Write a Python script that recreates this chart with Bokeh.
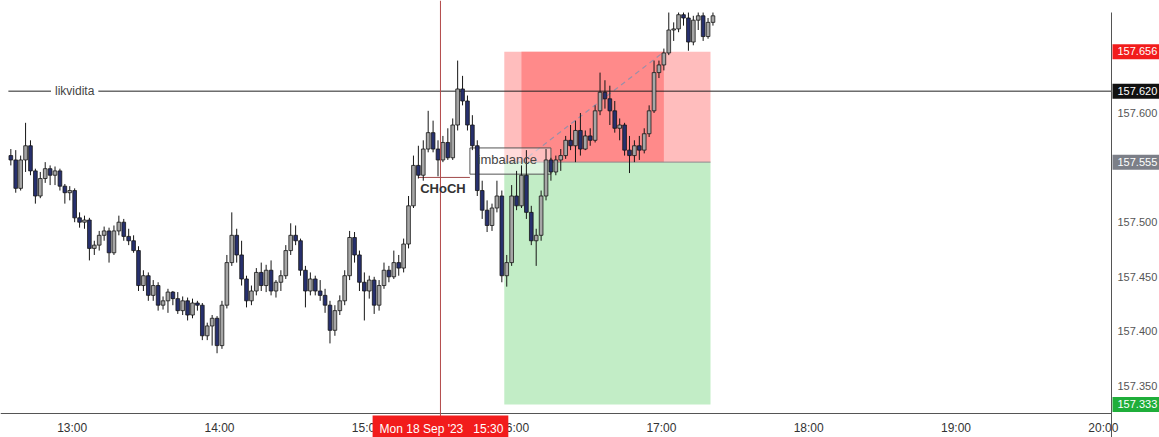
from bokeh.plotting import figure
from bokeh.models import Range1d, FixedTicker, Label, Span, ColumnDataSource
from bokeh.embed import file_html
from bokeh.resources import INLINE

# ---------------- DATA ----------------
first_bar = "12:35"
bar_minutes = 2

opens = [157.561, 157.557, 157.531, 157.557, 157.570, 157.547, 157.524, 157.540, 157.549, 157.543,
         157.547, 157.533, 157.527, 157.529, 157.504, 157.500, 157.502, 157.476, 157.479, 157.488,
         157.492, 157.472, 157.492, 157.500, 157.487, 157.483, 157.474, 157.442, 157.451, 157.433,
         157.442, 157.424, 157.428, 157.436, 157.430, 157.419, 157.428, 157.415, 157.426, 157.424,
         157.396, 157.405, 157.412, 157.387, 157.424, 157.463, 157.488, 157.470, 157.448, 157.428,
         157.437, 157.454, 157.442, 157.456, 157.437, 157.445, 157.451, 157.474, 157.488, 157.483,
         157.456, 157.437, 157.448, 157.437, 157.433, 157.424, 157.401, 157.419, 157.428, 157.451,
         157.486, 157.470, 157.445, 157.437, 157.447, 157.424, 157.442, 157.456, 157.450, 157.463,
         157.458, 157.480, 157.515, 157.552, 157.543, 157.567, 157.582, 157.567, 157.557, 157.573,
         157.559, 157.589, 157.622, 157.611, 157.589, 157.570, 157.529, 157.511, 157.497, 157.513,
         157.524, 157.451, 157.463, 157.524, 157.515, 157.543, 157.509, 157.483, 157.488, 157.524,
         157.557, 157.546, 157.557, 157.561, 157.575, 157.570, 157.584, 157.567, 157.579, 157.575,
         157.602, 157.619, 157.613, 157.602, 157.586, 157.589, 157.566, 157.561, 157.570, 157.566,
         157.581, 157.602, 157.637, 157.644, 157.655, 157.676, 157.677, 157.690, 157.687, 157.665,
         157.685, 157.689, 157.670, 157.683]
highs = [157.567, 157.566, 157.561, 157.591, 157.575, 157.549, 157.546, 157.555, 157.552, 157.551,
         157.549, 157.535, 157.533, 157.531, 157.509, 157.506, 157.504, 157.483, 157.492, 157.496,
         157.495, 157.497, 157.506, 157.503, 157.494, 157.488, 157.478, 157.456, 157.454, 157.447,
         157.445, 157.432, 157.439, 157.437, 157.436, 157.432, 157.431, 157.430, 157.428, 157.426,
         157.408, 157.415, 157.414, 157.428, 157.470, 157.509, 157.494, 157.483, 157.451, 157.442,
         157.458, 157.463, 157.461, 157.465, 157.447, 157.456, 157.479, 157.499, 157.497, 157.485,
         157.460, 157.454, 157.451, 157.447, 157.439, 157.428, 157.424, 157.433, 157.456, 157.492,
         157.491, 157.474, 157.454, 157.451, 157.450, 157.447, 157.463, 157.460, 157.474, 157.470,
         157.485, 157.524, 157.561, 157.570, 157.575, 157.602, 157.593, 157.575, 157.579, 157.586,
         157.595, 157.648, 157.634, 157.616, 157.598, 157.575, 157.538, 157.520, 157.517, 157.538,
         157.529, 157.470, 157.534, 157.547, 157.552, 157.566, 157.515, 157.494, 157.529, 157.567,
         157.559, 157.561, 157.567, 157.579, 157.589, 157.593, 157.600, 157.584, 157.586, 157.607,
         157.637, 157.630, 157.625, 157.611, 157.595, 157.591, 157.579, 157.575, 157.579, 157.586,
         157.607, 157.648, 157.648, 157.659, 157.692, 157.683, 157.692, 157.692, 157.692, 157.689,
         157.692, 157.692, 157.687, 157.692]
lows = [157.552, 157.527, 157.529, 157.546, 157.543, 157.517, 157.522, 157.536, 157.534, 157.534,
        157.529, 157.517, 157.520, 157.500, 157.495, 157.494, 157.465, 157.470, 157.474, 157.483,
        157.463, 157.470, 157.488, 157.483, 157.479, 157.472, 157.437, 157.437, 157.428, 157.428,
        157.419, 157.420, 157.417, 157.424, 157.416, 157.415, 157.410, 157.412, 157.419, 157.392,
        157.392, 157.387, 157.380, 157.384, 157.421, 157.460, 157.463, 157.442, 157.422, 157.424,
        157.433, 157.437, 157.436, 157.433, 157.431, 157.437, 157.448, 157.470, 157.479, 157.451,
        157.422, 157.433, 157.433, 157.428, 157.417, 157.389, 157.396, 157.415, 157.424, 157.447,
        157.463, 157.437, 157.410, 157.430, 157.416, 157.419, 157.439, 157.445, 157.448, 157.451,
        157.454, 157.476, 157.513, 157.540, 157.538, 157.564, 157.564, 157.542, 157.555, 157.557,
        157.557, 157.584, 157.607, 157.584, 157.566, 157.524, 157.503, 157.491, 157.492, 157.509,
        157.445, 157.441, 157.460, 157.511, 157.513, 157.503, 157.479, 157.460, 157.483, 157.520,
        157.538, 157.543, 157.547, 157.558, 157.566, 157.555, 157.561, 157.566, 157.570, 157.573,
        157.598, 157.604, 157.589, 157.582, 157.575, 157.561, 157.545, 157.555, 157.557, 157.563,
        157.578, 157.600, 157.632, 157.639, 157.653, 157.666, 157.674, 157.680, 157.657, 157.662,
        157.676, 157.666, 157.668, 157.680]
closes = [157.557, 157.531, 157.557, 157.570, 157.547, 157.524, 157.540, 157.549, 157.543, 157.547,
          157.533, 157.527, 157.529, 157.504, 157.500, 157.502, 157.476, 157.479, 157.488, 157.492,
          157.472, 157.492, 157.500, 157.487, 157.483, 157.474, 157.442, 157.451, 157.433, 157.442,
          157.424, 157.428, 157.436, 157.430, 157.419, 157.428, 157.415, 157.426, 157.424, 157.396,
          157.405, 157.412, 157.387, 157.424, 157.463, 157.488, 157.470, 157.448, 157.428, 157.437,
          157.454, 157.442, 157.456, 157.437, 157.445, 157.451, 157.474, 157.488, 157.483, 157.456,
          157.437, 157.448, 157.437, 157.433, 157.424, 157.401, 157.419, 157.428, 157.451, 157.486,
          157.470, 157.445, 157.437, 157.447, 157.424, 157.442, 157.456, 157.450, 157.463, 157.458,
          157.480, 157.515, 157.552, 157.543, 157.567, 157.582, 157.567, 157.557, 157.573, 157.559,
          157.589, 157.622, 157.611, 157.589, 157.570, 157.529, 157.511, 157.497, 157.513, 157.524,
          157.451, 157.463, 157.524, 157.515, 157.543, 157.509, 157.483, 157.488, 157.524, 157.557,
          157.546, 157.557, 157.561, 157.575, 157.570, 157.584, 157.567, 157.579, 157.575, 157.602,
          157.619, 157.613, 157.602, 157.586, 157.589, 157.566, 157.561, 157.570, 157.566, 157.581,
          157.602, 157.637, 157.644, 157.655, 157.676, 157.677, 157.690, 157.687, 157.665, 157.685,
          157.689, 157.670, 157.683, 157.689]

time_tick_labels = ["13:00", "14:00", "15:00", "16:00", "17:00", "18:00", "19:00", "20:00"]
price_ticks = [157.35, 157.40, 157.45, 157.50, 157.60]

liquidity_level = 157.620
liquidity_text = "likvidita"

choch_level = 157.541
choch_from, choch_to = "15:21", "15:42"
choch_text = "CHoCH"

imbalance_top, imbalance_bottom = 157.568, 157.544
imbalance_from, imbalance_to = "15:42", "16:15"
imbalance_text = "imbalance"

marker_time = "15:30"
marker_text = "Mon 18 Sep '23\u00a0\u00a0\u00a015:30"

entry_price, stop_price, target_price = 157.555, 157.656, 157.333
position_from, position_to = "15:56", "17:20"
trade_from, trade_to = "16:03", "17:01"

# ---------------- HELPERS / STYLE ----------------
def tmin(hhmm):
    h, m = hhmm.split(":")
    return int(h) * 60 + int(m)

t0 = tmin(first_bar)
times = [t0 + bar_minutes * i for i in range(len(closes))]

UP_FILL = "#a6a6a6"
DOWN_FILL = "#27306e"
EDGE = "#161616"
FONT = "Liberation Sans"
AXIS_COLOR = "#555555"

# view (whole canvas is the plotting frame; axes are pinned inside it)
X_START, X_END = 750.79, 1222.89
Y_START, Y_END = 157.30284, 157.70302
X_AXIS_AT = 1203.34      # where the price scale begins
Y_AXIS_AT = 157.32482    # where the time scale sits
Y_AXIS_TOP = 157.69203

p = figure(frame_width=1159, frame_height=437,
           output_backend="svg", toolbar_location=None,
           x_range=Range1d(X_START, X_END), y_range=Range1d(Y_START, Y_END),
           y_axis_location="right",
           min_border_left=0, min_border_right=0, min_border_top=0, min_border_bottom=0)
p.outline_line_color = None
p.grid.visible = False
p.background_fill_color = "white"
p.border_fill_color = "white"

xa = p.xaxis[0]
xa.fixed_location = Y_AXIS_AT
xa.bounds = (X_START, X_AXIS_AT)
xa.ticker = FixedTicker(ticks=[tmin(s) for s in time_tick_labels])
xa.major_label_overrides = {tmin(s): s for s in time_tick_labels}
xa.major_tick_out = 0
xa.major_tick_in = 0
xa.minor_tick_out = 0
xa.minor_tick_in = 0
xa.axis_line_color = AXIS_COLOR
xa.major_label_text_color = "#333333"
xa.major_label_text_font = FONT
xa.major_label_text_font_size = "12px"
xa.major_label_standoff = 8

ya = p.yaxis[0]
ya.fixed_location = X_AXIS_AT
ya.bounds = (Y_START, Y_AXIS_TOP)
ya.ticker = FixedTicker(ticks=price_ticks)
ya.major_label_overrides = {v: f"{v:.3f}" for v in price_ticks}
ya.major_tick_out = 0
ya.major_tick_in = 0
ya.minor_tick_out = 0
ya.minor_tick_in = 0
ya.axis_line_color = AXIS_COLOR
ya.major_label_text_color = "#555555"
ya.major_label_text_font = FONT
ya.major_label_text_font_size = "11px"
ya.major_label_standoff = 6

# position tool (short)
p.quad(left=[tmin(position_from)], right=[tmin(position_to)], top=[stop_price], bottom=[entry_price],
       fill_color="#ffbdbd", line_color=None)
p.quad(left=[tmin(trade_from)], right=[tmin(trade_to)], top=[stop_price], bottom=[entry_price],
       fill_color="#ff8a8a", line_color=None)
p.quad(left=[tmin(position_from)], right=[tmin(position_to)], top=[entry_price], bottom=[target_price],
       fill_color="#c2edc6", line_color=None)
p.segment(x0=[tmin(position_from)], x1=[tmin(position_to)], y0=[entry_price], y1=[entry_price],
          line_color="#8a8a8a", line_width=1)
p.line(x=[tmin(trade_from), tmin(trade_to)], y=[entry_price, stop_price],
       line_color="#9a8fa8", line_dash="5 4", line_width=1.2)

# imbalance box
p.quad(left=[tmin(imbalance_from)], right=[tmin(imbalance_to)], top=[imbalance_top], bottom=[imbalance_bottom],
       fill_color="white", fill_alpha=0.45, line_color="#555555", line_width=1)

# CHoCH line
p.segment(x0=[tmin(choch_from)], x1=[tmin(choch_to)], y0=[choch_level], y1=[choch_level],
          line_color="#a04a4a", line_width=1)

# liquidity line
p.segment(x0=[754.0], x1=[X_AXIS_AT], y0=[liquidity_level], y1=[liquidity_level],
          line_color="#222222", line_width=1)

# candles
src = ColumnDataSource(dict(
    t=times, o=opens, h=highs, l=lows, c=closes,
    top=[max(a, b) for a, b in zip(opens, closes)],
    bot=[min(a, b) for a, b in zip(opens, closes)],
    col=[UP_FILL if c >= o else DOWN_FILL for o, c in zip(opens, closes)],
))
p.segment(x0="t", x1="t", y0="l", y1="h", source=src, line_color=EDGE, line_width=1)
p.vbar(x="t", width=1.5, top="top", bottom="bot", source=src,
       fill_color="col", line_color=EDGE, line_width=0.8)

# liquidity label
p.add_layout(Label(x=781, y=liquidity_level, text=liquidity_text, text_align="center",
                   text_baseline="middle", text_font=FONT, text_font_size="12px", text_color="#444444",
                   background_fill_color="white", padding=4))

# vertical marker
p.add_layout(Span(location=tmin(marker_time), dimension="height", line_color="#b24848", line_width=1))

# texts
p.add_layout(Label(x=931, y=157.531, text=choch_text, text_align="center", text_baseline="middle",
                   text_font=FONT, text_font_size="13px", text_font_style="bold", text_color="#333333"))
p.add_layout(Label(x=957.2, y=157.557, text=imbalance_text, text_align="center", text_baseline="middle",
                   text_font=FONT, text_font_size="13px", text_color="#444444"))

# price-scale coloured labels
for price, bg in [(stop_price, "#f21c1c"), (liquidity_level, "#111111"),
                  (entry_price, "#7c7f88"), (target_price, "#1fae3a")]:
    p.add_layout(Label(x=X_AXIS_AT, y=price, x_offset=1, text=f"{price:.3f}", text_align="left",
                       text_baseline="middle", text_font=FONT, text_font_size="11px",
                       text_color="white", background_fill_color=bg, padding=(5, 4, 3, 4)))

# time-scale marker label
p.add_layout(Label(x=tmin(marker_time), y=Y_AXIS_AT, y_offset=-15, text=marker_text, text_align="center",
                   text_baseline="middle", text_font=FONT, text_font_size="12px",
                   text_color="white", background_fill_color="#f21c1c", padding=(7, 5, 7, 5)))

open("out.html", "w").write(file_html(p, INLINE))
